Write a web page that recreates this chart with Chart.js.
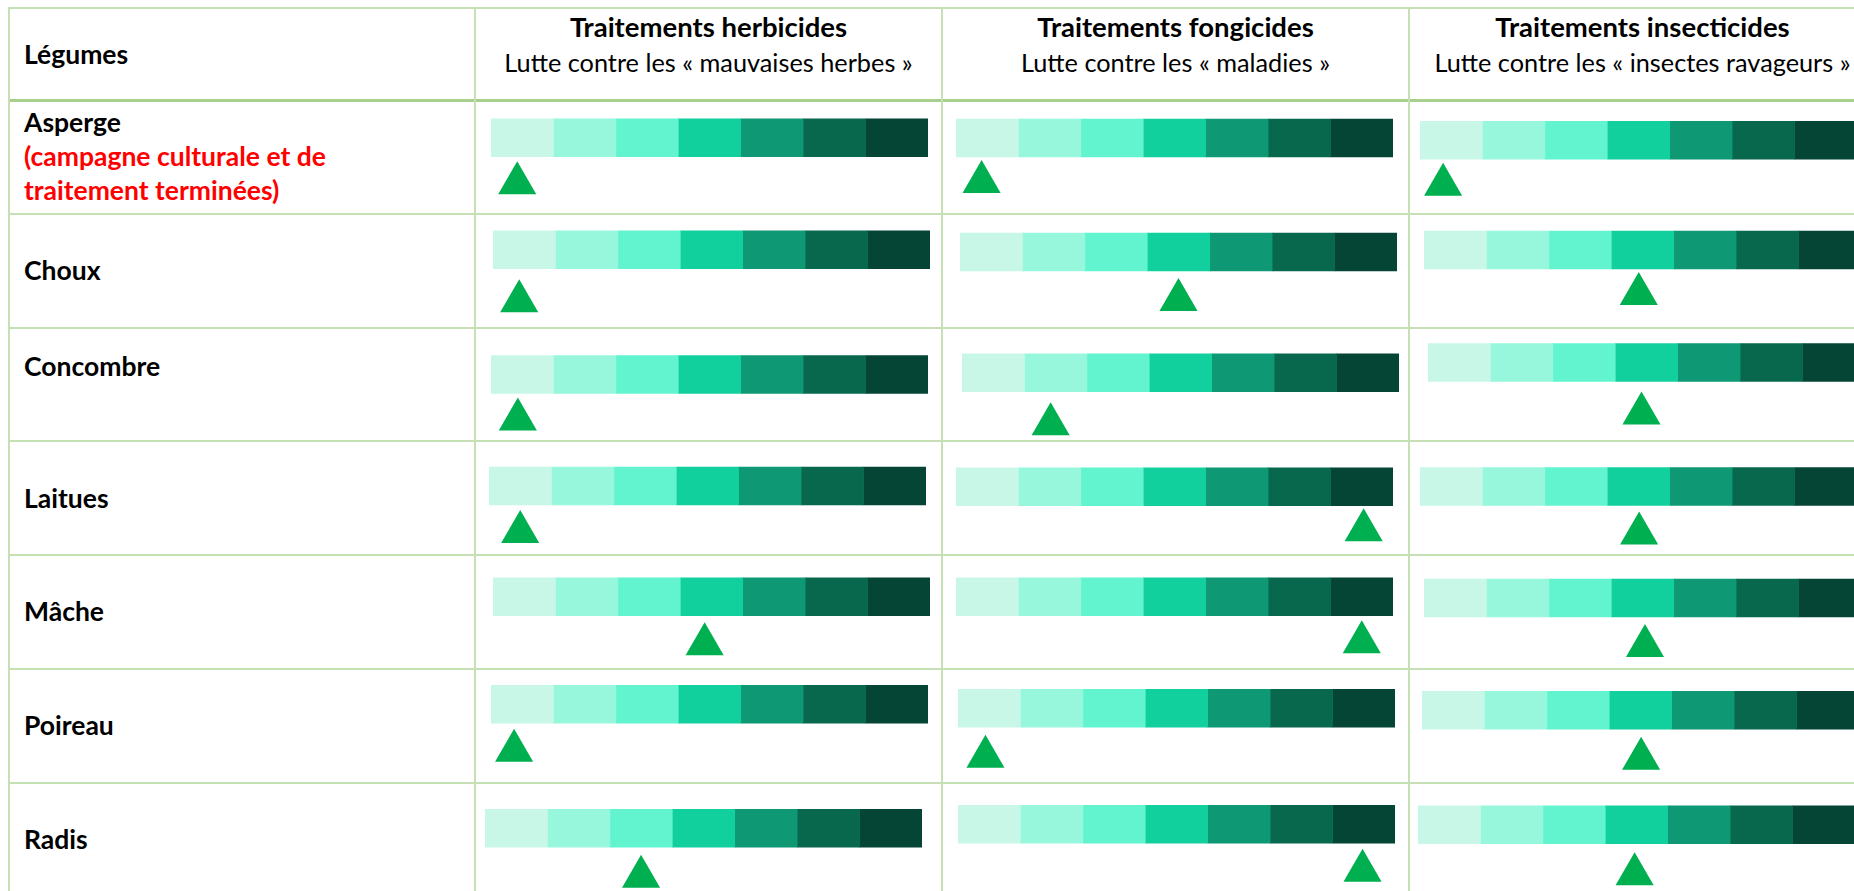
<!DOCTYPE html>
<html lang="fr">
<head>
<meta charset="utf-8">
<title>Légumes – niveaux de traitements</title>
<script src="https://cdn.jsdelivr.net/npm/chart.js@4.4.1/dist/chart.umd.min.js"></script>
<style>
  html, body { margin: 0; background: #fff; }
  #page { position: relative; width: 1854px; height: 891px; overflow: hidden; font-family: Lato, "Open Sans", sans-serif; color: #000; }
  .trait { position: absolute; background: #c5e0b3; }
  .txt { position: absolute; white-space: nowrap; line-height: 1.2; }
  canvas { position: absolute; }
</style>
</head>
<body>
<div id="page"></div>
<script>
const legumes = ['Asperge', 'Choux', 'Concombre', 'Laitues', 'Mâche', 'Poireau', 'Radis'];
const traitements = ['Traitements herbicides', 'Traitements fongicides', 'Traitements insecticides'];
const cibles = ['Lutte contre les « mauvaises herbes »', 'Lutte contre les « maladies »', 'Lutte contre les « insectes ravageurs »'];
const paliers = [1, 2, 3, 4, 5, 6, 7];

// position du triangle sur la jauge (0 à 7)
const herbicides = [0.42, 0.42, 0.43, 0.5, 3.39, 0.37, 2.5];
const fongicides = [0.41, 3.5, 1.42, 6.53, 6.5, 0.44, 6.48];
const insecticides = [0.37, 3.44, 3.42, 3.51, 3.54, 3.51, 3.47];
const series = [herbicides, fongicides, insecticides];

const couleurs = ['#c8f7e8', '#96f7dc', '#61f4cf', '#12d09d', '#0e9873', '#08684e', '#054535'];

// placement des jauges dans les cellules : [gauche, haut barre, haut triangle]
const placements = [
  [[491, 119, 161.7], [493.3, 231, 279.3], [491.3, 355.1, 397], [489.3, 467, 509.8], [493.3, 577.3, 621.8], [491.3, 685.7, 729.3], [485.3, 809.5, 855]],
  [[955.7, 119.3, 160.3], [959.7, 233.3, 278.3], [961.7, 353.3, 402], [955.7, 467.7, 508.3], [955.7, 577.7, 620], [957.7, 689.3, 735], [957.7, 805.3, 848.7]],
  [[1420, 121.3, 162.7], [1424, 231.3, 272.3], [1428, 343.7, 391.7], [1420, 467.7, 511.7], [1424, 579.3, 624.3], [1422, 691.3, 736.7], [1418, 805.3, 852]]
];

const page = document.getElementById('page');

function trait(x, y, w, h, couleur) {
  const d = document.createElement('div');
  d.className = 'trait';
  d.style.cssText = `left:${x}px;top:${y}px;width:${w}px;height:${h}px`;
  if (couleur) d.style.background = couleur;
  page.appendChild(d);
}

function texte(t, x, base, taille, opts = {}) {
  const d = document.createElement('div');
  d.className = 'txt';
  d.textContent = t;
  d.style.fontSize = taille + 'px';
  d.style.fontWeight = opts.gras ? 'bold' : 'normal';
  d.style.color = opts.couleur || '#000';
  d.style.left = x + 'px';
  d.style.top = (base + 1.5 - 0.987 * taille) + 'px';
  if (opts.centre) d.style.transform = 'translateX(-50%)';
  page.appendChild(d);
}

// grille du tableau
[8, 214, 327.7, 440.7, 555, 669, 783].forEach(y => trait(9, y - 1, 1860, 2));
trait(9, 98.5, 1860, 3, '#a8d08d');
[9, 474.5, 942, 1409].forEach(x => trait(x - 1, 7, 2, 900));

// en-têtes
texte('Légumes', 24, 63.3, 26.5, { gras: true });
const centres = [708.5, 1175.5, 1642.5];
traitements.forEach((t, i) => {
  texte(t, centres[i], 35.7, 27.5, { gras: true, centre: true });
  texte(cibles[i], centres[i], 70, 25.3, { centre: true });
});

// légumes
const bases = [131.7, 280, 375.7, 507.3, 621, 735, 849];
legumes.forEach((l, i) => texte(l, 24, bases[i], 26.5, { gras: true }));
texte('(campagne culturale et de', 24, 165.7, 26.5, { gras: true, couleur: '#ff0000' });
texte('traitement terminées)', 24, 200, 26.5, { gras: true, couleur: '#ff0000' });

function jauge(x, hautBarre, hautTriangle, position) {
  const cBarre = hautBarre + 19;
  const cTri = hautTriangle + 22;
  const h = Math.round(2 * (cTri - cBarre));
  const canvas = document.createElement('canvas');
  canvas.width = 437;
  canvas.height = h;
  canvas.style.left = Math.round(x) + 'px';
  canvas.style.top = Math.round(cBarre - h / 4) + 'px';
  page.appendChild(canvas);

  new Chart(canvas, {
    type: 'bar',
    data: {
      labels: ['jauge', 'repère'],
      datasets: [
        ...paliers.map((p, k) => ({
          data: [[p - 1, p], null],
          backgroundColor: couleurs[k],
          borderWidth: 0,
          barThickness: 38,
          grouped: false
        })),
        {
          type: 'line',
          data: [null, position],
          showLine: false,
          pointStyle: 'triangle',
          pointRadius: 22,
          pointBackgroundColor: '#00b050',
          pointBorderWidth: 0,
          clip: false
        }
      ]
    },
    options: {
      indexAxis: 'y',
      responsive: false,
      animation: false,
      events: [],
      layout: { padding: 0, autoPadding: false },
      plugins: { legend: { display: false }, tooltip: { enabled: false } },
      scales: {
        x: { type: 'linear', min: 0, max: paliers.length, display: false },
        y: { offset: true, display: false }
      }
    }
  });
}

series.forEach((serie, c) => {
  serie.forEach((pos, r) => {
    const [x, hb, ht] = placements[c][r];
    jauge(x, hb, ht, pos);
  });
});
</script>
</body>
</html>
